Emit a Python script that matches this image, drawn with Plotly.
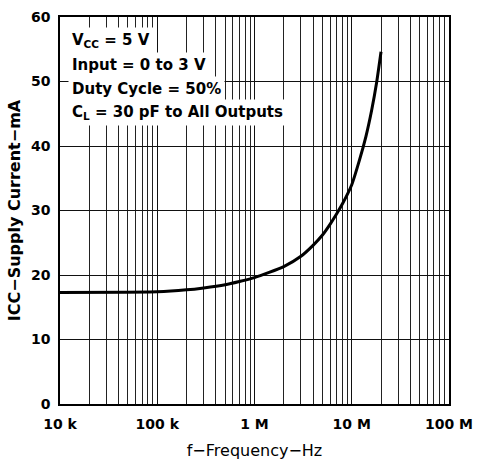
import plotly.graph_objects as go

# Data
freq_hz = [1e4, 1e5, 2e5, 3e5, 5e5, 7e5, 1e6, 2e6, 3e6, 4e6, 5e6, 6e6, 7e6, 8e6, 1e7, 1.2e7, 1.4e7, 1.6e7, 1.8e7, 2e7]
icc_ma = [17.3, 17.4, 17.7, 18.0, 18.5, 19.0, 19.6, 21.3, 22.9, 24.6, 26.2, 27.9, 29.5, 31.0, 34.0, 37.8, 41.5, 45.5, 49.8, 54.6]

x_tick_vals = [1e4, 1e5, 1e6, 1e7, 1e8]
x_tick_text = ["10 k", "100 k", "1 M", "10 M", "100 M"]
y_tick_vals = [0, 10, 20, 30, 40, 50, 60]
minor_vals = [m * 10 ** d for d in range(4, 8) for m in range(2, 10)]

notes = ["V<sub>CC</sub> = 5 V", "Input = 0 to 3 V", "Duty Cycle = 50%", "C<sub>L</sub> = 30 pF to All Outputs"]
note_y = [0.939, 0.877, 0.815, 0.752]

FONT = "DejaVu Sans, sans-serif"

fig = go.Figure()
fig.add_trace(go.Scatter(
    x=freq_hz, y=icc_ma, mode="lines",
    line=dict(color="black", width=3, shape="spline", smoothing=0.6),
    showlegend=False, hoverinfo="skip",
))

fig.update_xaxes(
    type="log", range=[4, 8], automargin=False,
    tickvals=x_tick_vals, ticktext=[f"<b>{t}</b>" for t in x_tick_text],
    showgrid=True, gridcolor="#111111", gridwidth=1,
    minor=dict(tickvals=minor_vals, showgrid=True, gridcolor="#222222", gridwidth=1, ticks=""),
    showline=True, linecolor="black", linewidth=1.5, mirror=True,
    ticks="", zeroline=False, ticklabelstandoff=6,
    tickfont=dict(family=FONT, size=14, color="black"),
    title=dict(text="f\u2212Frequency\u2212Hz", font=dict(family=FONT, size=16, color="black"), standoff=14),
)
fig.update_yaxes(
    range=[0, 60], automargin=False,
    tickvals=y_tick_vals, ticktext=[f"<b>{v}</b>" for v in y_tick_vals],
    showgrid=True, gridcolor="#111111", gridwidth=1,
    showline=True, linecolor="black", linewidth=1.5, mirror=True,
    ticks="", zeroline=False, ticklabelstandoff=5,
    tickfont=dict(family=FONT, size=14, color="black"),
    title=dict(text="<b>ICC\u2212Supply Current\u2212mA</b>", font=dict(family=FONT, size=16, color="black"), standoff=6),
)

for txt, yy in zip(notes, note_y):
    fig.add_annotation(
        xref="paper", yref="paper", x=0.02, y=yy, xanchor="left", yanchor="middle",
        text=f"<b>{txt}</b>", showarrow=False, bgcolor="white", borderpad=3,
        font=dict(family=FONT, size=15, color="black"),
    )

fig.update_layout(
    width=479, height=460,
    margin=dict(l=60, r=30, t=17, b=56),
    paper_bgcolor="white", plot_bgcolor="white",
)

fig.write_html("out.html", config={"displayModeBar": False},
               post_script="document.body.style.margin='0';")
